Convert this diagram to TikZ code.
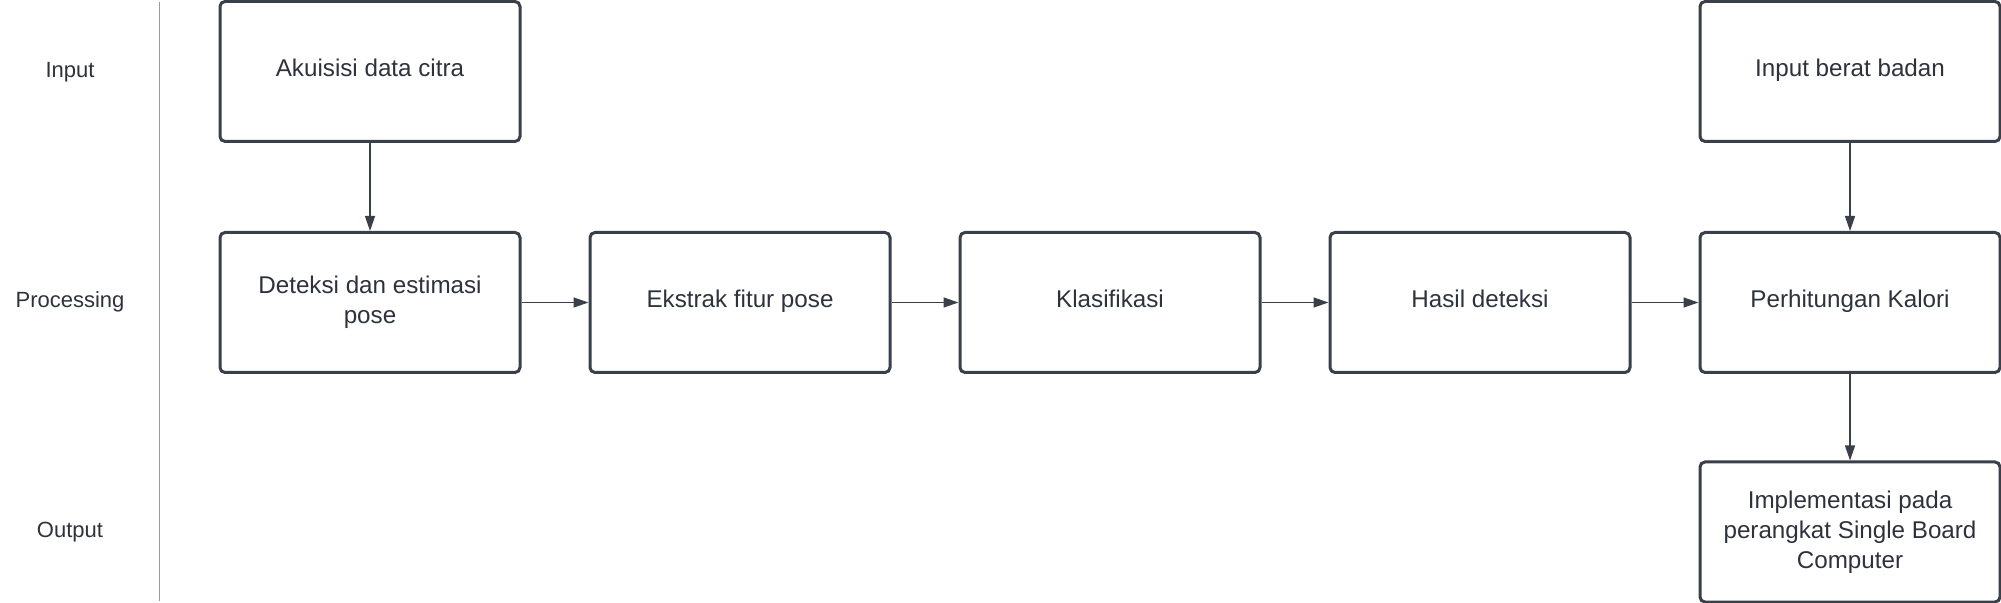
\documentclass[tikz,border=0pt]{standalone}
\usepackage{fontspec}
\setmainfont{Liberation Sans}
\usetikzlibrary{arrows.meta}
\definecolor{boxline}{RGB}{58,64,74}
\definecolor{txt}{RGB}{45,50,60}
\definecolor{divider}{RGB}{150,155,162}
\tikzset{
  x=0.5pt,y=-0.5pt,
  procbox/.style={draw=boxline,line width=1.5pt,rounded corners=2.5pt,
    minimum width=150pt,minimum height=70pt,align=center,text=txt,
    font=\fontsize{12.1pt}{15pt}\selectfont,inner sep=0pt},
  oneline/.style={text height=0.73em,text depth=0.21em},
  lanelabel/.style={text=txt,font=\fontsize{11pt}{13pt}\selectfont,inner sep=0pt,
    text height=0.73em,text depth=0.21em},
  flow/.style={draw=boxline,line width=0.65pt,-{Triangle[length=7.5pt,width=5pt]}}
}
\begin{document}
\begin{tikzpicture}
\useasboundingbox (0,0) rectangle (2001,603);
\fill[white] (0,0) rectangle (2001,603);
% swimlane labels and divider
\node[lanelabel] (lin) at (70,72) {Input};
\node[lanelabel] (lproc) at (70,302) {Processing};
\node[lanelabel] (lout) at (70,532) {Output};
\coordinate (dtop) at (159.5,2);
\coordinate (dbot) at (159.5,601);
\draw[divider,line width=0.7pt] (dtop) -- (dbot);
% boxes
\node[procbox,oneline] (akuisisi) at (370,71.5) {Akuisisi data citra};
\node[procbox] (deteksi) at (370,302.5) {Deteksi dan estimasi\\pose};
\node[procbox,oneline] (ekstrak) at (740,302.5) {Ekstrak fitur pose};
\node[procbox,oneline] (klasifikasi) at (1110,302.5) {Klasifikasi};
\node[procbox,oneline] (hasil) at (1480,302.5) {Hasil deteksi};
\node[procbox,oneline] (kalori) at (1850,302.5) {Perhitungan Kalori};
\node[procbox,oneline] (berat) at (1850,71.5) {Input berat badan};
\node[procbox] (impl) at (1850,532) {Implementasi pada\\perangkat Single Board\\Computer};
% connectors
\draw[flow] (akuisisi) -- (deteksi);
\draw[flow] (deteksi) -- (ekstrak);
\draw[flow] (ekstrak) -- (klasifikasi);
\draw[flow] (klasifikasi) -- (hasil);
\draw[flow] (hasil) -- (kalori);
\draw[flow] (berat) -- (kalori);
\draw[flow] (kalori) -- (impl);
\end{tikzpicture}
\end{document}
